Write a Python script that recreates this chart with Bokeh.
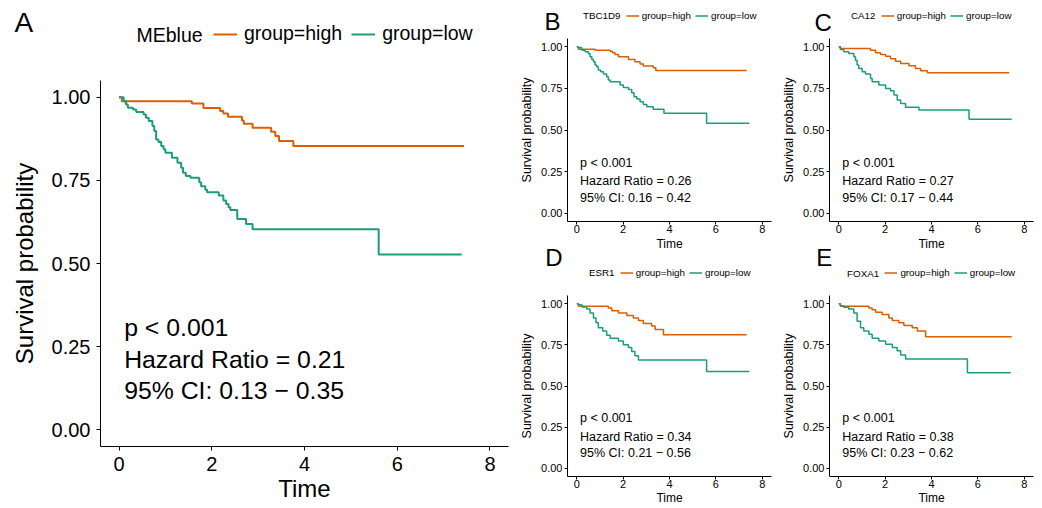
import numpy as np
from bokeh.plotting import figure
from bokeh.models import Label, Legend, LegendItem, FixedTicker, Range1d, NumeralTickFormatter
from bokeh.layouts import row, column
from bokeh.embed import file_html
from bokeh.resources import INLINE

# ---------------- data ----------------
panel_letters = ["A", "B", "C", "D", "E"]
genes = ["MEblue", "TBC1D9", "CA12", "ESR1", "FOXA1"]
group_labels = ["group=high", "group=low"]
p_text = ["p < 0.001", "p < 0.001", "p < 0.001", "p < 0.001", "p < 0.001"]
hazard_ratio = ["0.21", "0.26", "0.27", "0.34", "0.38"]
ci_low = ["0.13", "0.16", "0.17", "0.21", "0.23"]
ci_high = ["0.35", "0.42", "0.44", "0.56", "0.62"]
x_ticks = [0, 2, 4, 6, 8]
y_ticks = [0.0, 0.25, 0.5, 0.75, 1.0]

A_high_time = [0, 0.06, 1.57, 1.82, 2.18, 2.25, 2.35, 2.65, 2.69, 2.88, 3.28, 3.37, 3.45, 3.76, 7.44]
A_high_surv = [1.0, 0.988, 0.981, 0.967, 0.958, 0.951, 0.941, 0.930, 0.920, 0.908, 0.896, 0.883, 0.868, 0.853, 0.853]
A_low_time = [0, 0.10, 0.15, 0.19, 0.30, 0.37, 0.53, 0.58, 0.64, 0.72, 0.76, 0.80, 0.85, 0.91, 0.96, 1.00,
              1.14, 1.26, 1.34, 1.38, 1.44, 1.54, 1.73, 1.77, 1.86, 1.90, 2.15, 2.25, 2.31, 2.36, 2.40,
              2.55, 2.74, 2.88, 5.60, 7.39]
A_low_surv = [1.0, 0.988, 0.978, 0.968, 0.963, 0.955, 0.948, 0.938, 0.928, 0.913, 0.898, 0.873, 0.865, 0.853,
              0.843, 0.833, 0.818, 0.803, 0.788, 0.773, 0.763, 0.758, 0.744, 0.732, 0.722, 0.714, 0.704,
              0.689, 0.679, 0.669, 0.661, 0.634, 0.619, 0.603, 0.527, 0.527]

B_high_time = [0, 0.07, 0.79, 1.44, 1.54, 1.65, 1.80, 2.23, 2.51, 2.73, 2.87, 3.30, 3.41, 7.33]
B_high_surv = [1.0, 0.986, 0.980, 0.974, 0.964, 0.954, 0.940, 0.924, 0.910, 0.896, 0.884, 0.874, 0.858, 0.858]
B_low_time = [0, 0.07, 0.22, 0.36, 0.50, 0.57, 0.65, 0.72, 0.79, 0.86, 0.93, 1.03, 1.15, 1.29, 1.36, 1.44,
              1.87, 2.01, 2.23, 2.37, 2.47, 2.59, 2.73, 2.87, 3.02, 3.30, 3.76, 5.60, 7.44]
B_low_surv = [1.0, 0.994, 0.98, 0.97, 0.96, 0.94, 0.924, 0.91, 0.89, 0.88, 0.86, 0.85, 0.836, 0.82, 0.80,
              0.79, 0.77, 0.756, 0.744, 0.724, 0.70, 0.686, 0.67, 0.654, 0.64, 0.624, 0.60, 0.54, 0.54]

C_high_time = [0, 0.07, 1.37, 1.59, 1.80, 2.02, 2.23, 2.45, 2.67, 3.03, 3.31, 3.53, 3.82, 7.35]
C_high_surv = [1.0, 0.99, 0.98, 0.964, 0.954, 0.944, 0.928, 0.914, 0.90, 0.886, 0.87, 0.856, 0.844, 0.844]
C_low_time = [0, 0.07, 0.22, 0.43, 0.65, 0.72, 0.79, 0.86, 1.01, 1.15, 1.37, 1.44, 1.73, 2.02, 2.23, 2.38,
              2.52, 2.67, 2.88, 3.46, 5.62, 7.46]
C_low_surv = [1.0, 0.984, 0.97, 0.96, 0.94, 0.92, 0.89, 0.87, 0.85, 0.836, 0.81, 0.79, 0.77, 0.75, 0.736,
              0.71, 0.68, 0.66, 0.636, 0.62, 0.564, 0.564]

D_high_time = [0, 0.07, 1.36, 1.51, 1.80, 2.16, 2.44, 2.66, 2.87, 3.23, 3.38, 3.74, 7.33]
D_high_surv = [1.0, 0.984, 0.974, 0.958, 0.944, 0.928, 0.914, 0.898, 0.88, 0.864, 0.844, 0.812, 0.812]
D_low_time = [0, 0.07, 0.22, 0.43, 0.57, 0.72, 0.83, 0.93, 1.12, 1.29, 1.44, 1.80, 2.01, 2.23, 2.37, 2.51,
              2.66, 5.60, 7.44]
D_low_surv = [1.0, 0.994, 0.98, 0.968, 0.944, 0.914, 0.884, 0.854, 0.834, 0.808, 0.79, 0.774, 0.75, 0.734,
              0.71, 0.684, 0.658, 0.588, 0.588]

E_high_time = [0, 0.07, 1.30, 1.44, 1.59, 1.87, 2.16, 2.31, 2.59, 2.81, 3.17, 3.39, 3.75, 7.46]
E_high_surv = [1.0, 0.984, 0.974, 0.964, 0.948, 0.934, 0.914, 0.898, 0.884, 0.868, 0.854, 0.834, 0.80, 0.80]
E_low_time = [0, 0.07, 0.22, 0.43, 0.65, 0.79, 0.94, 1.08, 1.30, 1.44, 1.73, 2.02, 2.31, 2.52, 2.67, 2.88,
              5.55, 7.42]
E_low_surv = [1.0, 0.988, 0.978, 0.968, 0.944, 0.894, 0.854, 0.834, 0.814, 0.79, 0.774, 0.754, 0.734,
              0.714, 0.688, 0.664, 0.58, 0.58]

curves = [
    (A_high_time, A_high_surv, A_low_time, A_low_surv),
    (B_high_time, B_high_surv, B_low_time, B_low_surv),
    (C_high_time, C_high_surv, C_low_time, C_low_surv),
    (D_high_time, D_high_surv, D_low_time, D_low_surv),
    (E_high_time, E_high_surv, E_low_time, E_low_surv),
]

# ---------------- style / layout ----------------
FONT = "Liberation Sans"
ORANGE = "#D95F02"
GREEN = "#1B9E77"

big = dict(tick="20px", xlab="24px", ylab="24px", stats="24.8px", legend="19.5px", panel="28px", lw=2,
           x_tick_out=4, x_std=6, x_lab_std=1, y_tick_out=4, y_std=6, y_lab_std=11,
           glyph_w=24, glyph_h=22, lab_std=7, spacing=9, stat_y=[0.308, 0.211, 0.117])
small1 = dict(tick="11px", xlab="12px", ylab="12.5px", stats="12.5px", legend="9.8px", panel="24px", lw=1.5,
              x_tick_out=3, x_std=0, x_lab_std=1, y_tick_out=3, y_std=2, y_lab_std=4,
              glyph_w=13, glyph_h=11, lab_std=3, spacing=4, stat_y=[0.303, 0.193, 0.090])
small2 = dict(small1, x_lab_std=0)

# plot figures: size and borders (l, r, t, b)
plot_specs = [
    dict(w=510, h=431, b=(100, 2, 4, 61), st=big, stat_x=0.11),
    dict(w=265, h=217, b=(57, 4, 2, 32), st=small1, stat_x=0.14),
    dict(w=265, h=217, b=(54, 7, 2, 32), st=small1, stat_x=0.15),
    dict(w=265, h=217, b=(57, 4, 5, 28), st=small2, stat_x=0.14),
    dict(w=265, h=217, b=(54, 7, 5, 28), st=small2, stat_x=0.15),
]
# header strips (y measured downwards from the strip top):
# letter (x, centre y), gene name (x, centre y), legend bottom-left (x, y up from strip bottom)
header_specs = [
    dict(w=510, h=76, letter=(14, 21.7), name=(136, 34), leg=(213, 31), st=big),
    dict(w=265, h=36, letter=(34, 21.3), name=(72.4, 15.3), leg=(115.7, 15.2), st=small1),
    dict(w=265, h=36, letter=(39, 21.8), name=(75.5, 15.0), leg=(105.7, 15.5), st=small1),
    dict(w=265, h=50, letter=(34.7, 16.7), name=(78.4, 32.3), leg=(109.7, 12.2), st=small2),
    dict(w=265, h=50, letter=(40.7, 16.7), name=(71.6, 32.7), leg=(109.4, 11.8), st=small2),
]
ROW2_OVERLAP = 13  # the second row's header strips start slightly above the first row's bottom edge


def unaligned(fig):
    if "frame_align" in fig.properties():
        fig.frame_align = False
    return fig


def make_header(i):
    hs = header_specs[i]
    st = hs["st"]
    h = figure(width=hs["w"], height=hs["h"], x_range=Range1d(0, hs["w"]), y_range=Range1d(hs["h"], 0),
               x_axis_type=None, y_axis_type=None, output_backend="svg", toolbar_location=None,
               title=None, min_border_left=0, min_border_right=0, min_border_top=0, min_border_bottom=0)
    unaligned(h)
    h.outline_line_color = None
    h.background_fill_color = None
    h.border_fill_color = None

    lx, ly = hs["letter"]
    h.add_layout(Label(x=lx, y=ly, text=panel_letters[i], text_font=FONT, text_font_size=st["panel"],
                       text_baseline="middle", text_align="left", text_color="black"))
    nx, ny = hs["name"]
    h.add_layout(Label(x=nx, y=ny, text=genes[i], text_font=FONT, text_font_size=st["legend"],
                       text_baseline="middle", text_align="left", text_color="black"))

    # legend keys: renderers without visible data, only their styles are shown in the legend
    nan = np.array([np.nan])
    key_high = h.line(x=nan, y=nan, line_color=ORANGE, line_width=st["lw"])
    key_low = h.line(x=nan, y=nan, line_color=GREEN, line_width=st["lw"])
    legend = Legend(items=[LegendItem(label=group_labels[0], renderers=[key_high]),
                           LegendItem(label=group_labels[1], renderers=[key_low])],
                    orientation="horizontal", location=hs["leg"],
                    glyph_width=st["glyph_w"], glyph_height=st["glyph_h"], label_height=st["glyph_h"],
                    label_standoff=st["lab_std"], spacing=st["spacing"], padding=0, margin=0,
                    border_line_color=None, background_fill_alpha=0,
                    label_text_font=FONT, label_text_font_size=st["legend"], label_text_color="black")
    h.add_layout(legend)
    return h


def make_panel(i):
    spec = plot_specs[i]
    st = spec["st"]
    bl, br, bt, bb = spec["b"]
    p = figure(width=spec["w"], height=spec["h"], x_range=Range1d(-0.4, 8.4), y_range=Range1d(-0.05, 1.05),
               output_backend="svg", toolbar_location=None, title=None,
               min_border_left=bl, min_border_right=br, min_border_top=bt, min_border_bottom=bb)
    unaligned(p)
    p.outline_line_color = None
    p.xgrid.visible = False
    p.ygrid.visible = False
    p.background_fill_color = "white"
    p.border_fill_color = "white"

    for ax in (p.xaxis[0], p.yaxis[0]):
        ax.axis_line_color = "black"
        ax.axis_line_width = 1
        ax.major_tick_line_color = "black"
        ax.major_tick_in = 0
        ax.minor_tick_line_color = None
        ax.major_label_text_font = FONT
        ax.major_label_text_font_size = st["tick"]
        ax.major_label_text_color = "black"
        ax.axis_label_text_font = FONT
        ax.axis_label_text_font_style = "normal"
        ax.axis_label_text_color = "black"

    p.xaxis.axis_label = "Time"
    p.xaxis.axis_label_text_font_size = st["xlab"]
    p.xaxis.ticker = FixedTicker(ticks=x_ticks)
    p.xaxis.major_tick_out = st["x_tick_out"]
    p.xaxis.major_label_standoff = st["x_std"]
    p.xaxis.axis_label_standoff = st["x_lab_std"]

    p.yaxis.axis_label = "Survival probability"
    p.yaxis.axis_label_text_font_size = st["ylab"]
    p.yaxis.ticker = FixedTicker(ticks=y_ticks)
    p.yaxis.formatter = NumeralTickFormatter(format="0.00")
    p.yaxis.major_tick_out = st["y_tick_out"]
    p.yaxis.major_label_standoff = st["y_std"]
    p.yaxis.axis_label_standoff = st["y_lab_std"]

    ht, hsv, lt, lsv = curves[i]
    p.step(x=ht, y=hsv, mode="after", line_color=ORANGE, line_width=st["lw"])
    p.step(x=lt, y=lsv, mode="after", line_color=GREEN, line_width=st["lw"])

    lines = [p_text[i], "Hazard Ratio = " + hazard_ratio[i], "95% CI: " + ci_low[i] + " \u2212 " + ci_high[i]]
    for txt, yy in zip(lines, st["stat_y"]):
        p.add_layout(Label(x=spec["stat_x"], y=yy, text=txt, text_font=FONT, text_font_size=st["stats"],
                           text_baseline="middle", text_align="left", text_color="black"))
    return p


hA, hB, hC, hD, hE = [make_header(i) for i in range(5)]
pA, pB, pC, pD, pE = [make_panel(i) for i in range(5)]

left = column(hA, pA)
row1 = row(column(hB, pB), column(hC, pC))
row2 = row(column(hD, pD), column(hE, pE))
row2.margin = (-ROW2_OVERLAP, 0, 0, 0)
right = column(row1, row2)
layout = row(left, right)

open("out.html", "w").write(file_html(layout, INLINE))
